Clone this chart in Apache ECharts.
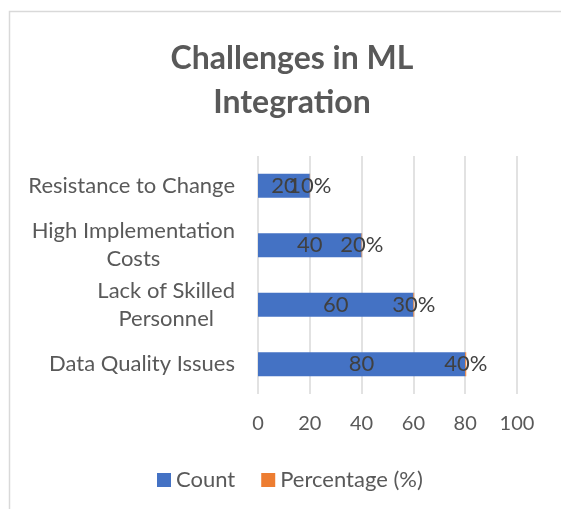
<!DOCTYPE html>
<html>
<head>
<meta charset="utf-8">
<script src="https://cdn.jsdelivr.net/npm/echarts@6/dist/echarts.min.js"></script>
<style>
    html, body { margin: 0; padding: 0; background: #fff; }
    #chart { width: 561px; height: 509px; }
</style>
</head>
<body>
<div id="chart"></div>
<script>
// categories listed bottom to top, as the category axis draws them
const categories = ['Data Quality Issues', 'Lack of Skilled\nPersonnel', 'High Implementation\nCosts', 'Resistance to Change'];
const countValues = [80, 60, 40, 20];
const percentValues = [0.4, 0.3, 0.2, 0.1]; // stored as fractions, so the bars are barely visible
const xTicks = [0, 20, 40, 60, 80, 100];

const FONT = 'Lato';
const chart = echarts.init(document.getElementById('chart'));

const option = {
    backgroundColor: '#fff',
    animation: false,
    title: {
        text: 'Challenges in ML\nIntegration',
        left: 287,
        textAlign: 'center',
        top: 32,
        textStyle: {
            fontFamily: FONT,
            fontSize: 32,
            fontWeight: 'bold',
            color: '#595959',
            lineHeight: 44
        }
    },
    legend: {
        bottom: 13,
        left: 152,
        itemWidth: 14,
        itemHeight: 14,
        itemGap: 26,
        icon: 'rect',
        textStyle: { fontFamily: FONT, fontSize: 22, color: '#595959' },
        data: ['Count', 'Percentage (%)']
    },
    grid: { left: 258, right: 44, top: 156, bottom: 115 },
    xAxis: {
        type: 'value',
        min: xTicks[0],
        max: xTicks[xTicks.length - 1],
        interval: 20,
        axisLine: { show: false },
        axisTick: { show: false },
        splitLine: { lineStyle: { color: '#d9d9d9', width: 1.5 } },
        axisLabel: { fontFamily: FONT, fontSize: 20, color: '#595959', margin: 20 }
    },
    yAxis: {
        type: 'category',
        data: categories,
        axisLine: { show: false },
        axisTick: { show: false },
        axisLabel: {
            margin: 23,
            formatter: (v) => v.split('\n').map(s => '{c|' + s + '}').join('\n'),
            rich: {
                c: { fontFamily: FONT, fontSize: 22, color: '#595959', align: 'center', lineHeight: 28 }
            }
        }
    },
    series: [
        {
            name: 'Count',
            type: 'bar',
            stack: 'total',
            barWidth: 24,
            data: countValues,
            itemStyle: { color: '#4472C4' },
            label: {
                show: true,
                position: 'inside',
                fontFamily: FONT,
                fontSize: 22,
                color: '#404040'
            }
        },
        {
            name: 'Percentage (%)',
            type: 'bar',
            stack: 'total',
            barWidth: 24,
            data: percentValues,
            itemStyle: { color: '#ED7D31' },
            label: {
                show: true,
                position: 'inside',
                fontFamily: FONT,
                fontSize: 22,
                color: '#404040',
                formatter: (p) => Math.round(p.value * 100) + '%'
            }
        }
    ],
    graphic: [
        {
            type: 'rect',
            silent: true,
            shape: { x: 9.5, y: 11.5, width: 700, height: 700 },
            style: { fill: 'none', stroke: '#d9d9d9', lineWidth: 1.5 }
        }
    ]
};

chart.setOption(option);
</script>
</body>
</html>
